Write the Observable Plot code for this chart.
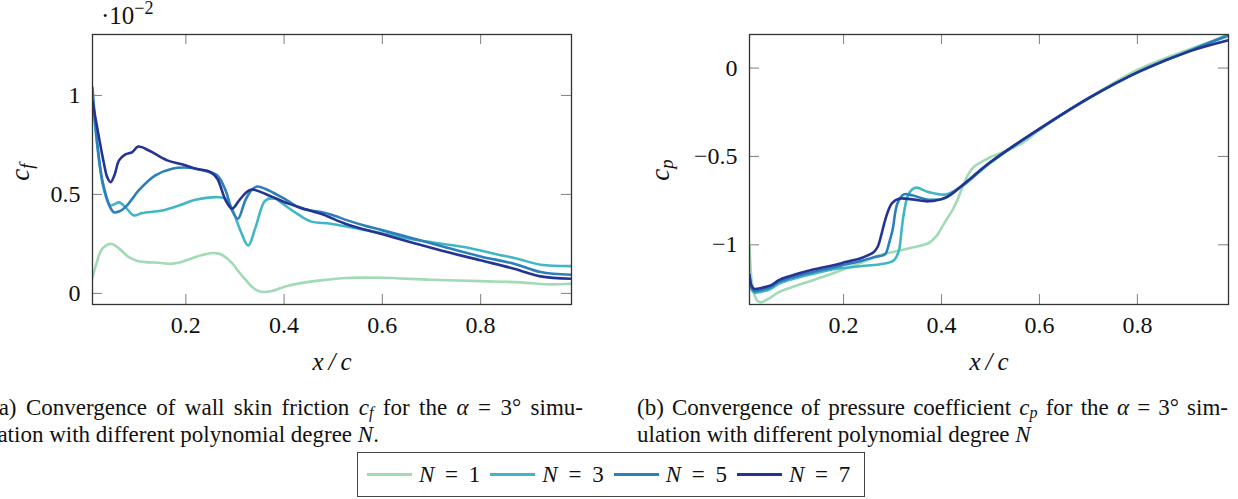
<!DOCTYPE html>
<html><head><meta charset="utf-8">
<script src="https://cdn.jsdelivr.net/npm/d3@7"></script>
<script src="https://cdn.jsdelivr.net/npm/@observablehq/plot@0.6"></script>
<style>
body{margin:0;background:#fff;width:1238px;height:499px;overflow:hidden;position:relative;font-family:'Liberation Serif',serif;color:#111}
.abs{position:absolute}
.cap{position:absolute;font-size:23px;line-height:25px;width:592px;white-space:nowrap}
.just{text-align:justify;text-align-last:justify;white-space:normal}
sub{font-size:0.7em;vertical-align:-0.2em;line-height:0}
sup{font-size:0.72em;vertical-align:0.55em;line-height:0}
.ylab{position:absolute;width:60px;height:30px;line-height:30px;text-align:center;font-size:27px;transform:rotate(-90deg)}
#legend{position:absolute;left:357px;top:452px;width:508px;height:45px;border:1px solid #444;box-sizing:border-box;display:flex;align-items:center;padding-left:9px;font-size:23px}
#legend .sw{display:inline-block;width:45px;height:2.6px;margin-right:7px}
#legend .lt{margin-right:10px;white-space:nowrap}
#legend .lt .eq{padding:0 5px}
</style>
</head><body>
<div id="left" class="abs" style="left:0;top:0"></div>
<div id="right" class="abs" style="left:620px;top:0"></div>
<div class="abs" style="left:101px;top:4px;font-size:25px;line-height:24px">·10<sup>−2</sup></div>
<div class="ylab" style="left:-10px;top:157px"><i>c</i><sub><i>f</i></sub></div>
<div class="ylab" style="left:630px;top:155px"><i>c</i><sub><i>p</i></sub></div>
<div class="cap just" style="left:-9px;top:395px">(a) Convergence of wall skin friction <i>c</i><sub><i>f</i></sub> for the <i>α</i> = 3° simu-</div>
<div class="cap" style="left:-9px;top:422px">lation with different polynomial degree <i>N</i>.</div>
<div class="cap just" style="left:637px;top:395px;width:591px">(b) Convergence of pressure coefficient <i>c</i><sub><i>p</i></sub> for the <i>α</i> = 3° sim-</div>
<div class="cap" style="left:637px;top:422px">ulation with different polynomial degree <i>N</i></div>
<div id="legend"></div>
<script>
// ---- data ----
const degrees = ["N = 1", "N = 3", "N = 5", "N = 7"];
const colors = ["#a1dab4", "#41b6c4", "#2c7fb8", "#253494"];
const xTicks = [0.2, 0.4, 0.6, 0.8];
const cfTicks = [0, 0.5, 1];
const cpTicks = [-1, -0.5, 0];

// skin friction c_f (units of 1e-2)
const cfN1x = [0.01, 0.02, 0.03, 0.049, 0.065, 0.084, 0.1, 0.118, 0.145, 0.172, 0.195, 0.213, 0.235, 0.254, 0.268, 0.281, 0.295, 0.308, 0.322, 0.335, 0.348, 0.359, 0.375, 0.389, 0.41, 0.434, 0.475, 0.529, 0.597, 0.698, 0.8, 0.882, 0.936, 0.985];
const cfN1y = [0.08, 0.167, 0.226, 0.25, 0.225, 0.183, 0.165, 0.158, 0.155, 0.15, 0.162, 0.178, 0.195, 0.204, 0.2, 0.183, 0.15, 0.108, 0.068, 0.032, 0.012, 0.007, 0.012, 0.024, 0.04, 0.052, 0.066, 0.078, 0.079, 0.069, 0.062, 0.056, 0.046, 0.049];
const cfN3x = [0.01, 0.02, 0.03, 0.04, 0.047, 0.054, 0.064, 0.077, 0.094, 0.111, 0.152, 0.186, 0.22, 0.267, 0.281, 0.294, 0.311, 0.327, 0.342, 0.362, 0.382, 0.393, 0.41, 0.427, 0.454, 0.495, 0.563, 0.631, 0.698, 0.766, 0.834, 0.875, 0.922, 0.985];
const cfN3y = [0.98, 0.74, 0.56, 0.47, 0.444, 0.45, 0.46, 0.436, 0.394, 0.406, 0.419, 0.444, 0.473, 0.486, 0.478, 0.428, 0.318, 0.242, 0.335, 0.47, 0.478, 0.461, 0.43, 0.402, 0.364, 0.352, 0.321, 0.288, 0.259, 0.234, 0.197, 0.175, 0.145, 0.138];
const cfN5x = [0.01, 0.02, 0.03, 0.037, 0.045, 0.054, 0.065, 0.077, 0.09, 0.104, 0.138, 0.172, 0.206, 0.24, 0.264, 0.281, 0.294, 0.306, 0.321, 0.333, 0.345, 0.369, 0.406, 0.434, 0.475, 0.495, 0.529, 0.563, 0.597, 0.665, 0.732, 0.8, 0.868, 0.922, 0.985];
const cfN5y = [1.04, 0.75, 0.57, 0.5, 0.44, 0.41, 0.415, 0.436, 0.475, 0.52, 0.596, 0.63, 0.635, 0.618, 0.596, 0.52, 0.419, 0.377, 0.47, 0.52, 0.54, 0.52, 0.47, 0.43, 0.411, 0.399, 0.369, 0.343, 0.321, 0.276, 0.231, 0.187, 0.15, 0.108, 0.094];
const cfN7x = [0.01, 0.023, 0.033, 0.04, 0.047, 0.055, 0.064, 0.077, 0.091, 0.103, 0.125, 0.162, 0.192, 0.22, 0.25, 0.264, 0.281, 0.294, 0.311, 0.332, 0.369, 0.406, 0.434, 0.475, 0.529, 0.597, 0.665, 0.732, 0.8, 0.868, 0.922, 0.985];
const cfN7y = [0.97, 0.79, 0.66, 0.587, 0.562, 0.6, 0.672, 0.702, 0.714, 0.742, 0.722, 0.672, 0.652, 0.63, 0.613, 0.579, 0.47, 0.428, 0.478, 0.524, 0.495, 0.456, 0.433, 0.402, 0.348, 0.301, 0.254, 0.209, 0.167, 0.125, 0.086, 0.074];

// pressure coefficient c_p
const cpN1x = [0.008, 0.015, 0.025, 0.034, 0.05, 0.068, 0.1, 0.136, 0.17, 0.204, 0.24, 0.272, 0.31, 0.34, 0.374, 0.39, 0.401, 0.412, 0.422, 0.432, 0.442, 0.455, 0.466, 0.5, 0.534, 0.568, 0.6, 0.7, 0.8, 0.9, 0.986];
const cpN1y = [-1.0, -1.25, -1.32, -1.324, -1.3, -1.268, -1.235, -1.202, -1.17, -1.135, -1.098, -1.06, -1.035, -1.016, -0.99, -0.95, -0.9, -0.85, -0.805, -0.75, -0.68, -0.6, -0.56, -0.504, -0.466, -0.419, -0.35, -0.17, -0.01, 0.1, 0.18];
const cpN3x = [0.008, 0.012, 0.017, 0.034, 0.051, 0.068, 0.088, 0.136, 0.177, 0.204, 0.238, 0.272, 0.303, 0.313, 0.318, 0.323, 0.333, 0.347, 0.374, 0.408, 0.442, 0.5, 0.602, 0.704, 0.806, 0.908, 0.986];
const cpN3y = [-1.19, -1.25, -1.27, -1.265, -1.25, -1.22, -1.2, -1.165, -1.14, -1.13, -1.12, -1.112, -1.088, -1.032, -0.93, -0.824, -0.711, -0.677, -0.702, -0.715, -0.668, -0.535, -0.342, -0.166, -0.016, 0.1, 0.19];
const cpN5x = [0.008, 0.012, 0.017, 0.034, 0.051, 0.068, 0.088, 0.136, 0.177, 0.204, 0.238, 0.262, 0.28, 0.286, 0.293, 0.3, 0.31, 0.323, 0.34, 0.374, 0.408, 0.442, 0.5, 0.602, 0.704, 0.806, 0.908, 0.986];
const cpN5y = [-1.18, -1.24, -1.26, -1.255, -1.24, -1.21, -1.19, -1.155, -1.13, -1.112, -1.09, -1.07, -1.06, -1.05, -0.99, -0.918, -0.767, -0.715, -0.72, -0.745, -0.735, -0.666, -0.533, -0.341, -0.165, -0.016, 0.1, 0.185];
const cpN7x = [0.008, 0.012, 0.017, 0.034, 0.051, 0.068, 0.088, 0.136, 0.177, 0.204, 0.238, 0.262, 0.27, 0.276, 0.283, 0.289, 0.299, 0.313, 0.34, 0.374, 0.408, 0.442, 0.5, 0.602, 0.704, 0.806, 0.908, 0.986];
const cpN7y = [-1.17, -1.23, -1.249, -1.243, -1.23, -1.2, -1.179, -1.141, -1.117, -1.098, -1.073, -1.041, -1.01, -0.956, -0.88, -0.824, -0.764, -0.739, -0.743, -0.754, -0.733, -0.664, -0.532, -0.34, -0.164, -0.017, 0.096, 0.157];

// ---- build ----
const rows = (xs, ys, k) => xs.map((x, i) => ({x, y: ys[i], k}));
const cfData = [
  ...rows(cfN1x, cfN1y, degrees[0]), ...rows(cfN3x, cfN3y, degrees[1]),
  ...rows(cfN5x, cfN5y, degrees[2]), ...rows(cfN7x, cfN7y, degrees[3])];
const cpData = [
  ...rows(cpN1x, cpN1y, degrees[0]), ...rows(cpN3x, cpN3y, degrees[1]),
  ...rows(cpN5x, cpN5y, degrees[2]), ...rows(cpN7x, cpN7y, degrees[3])];

const fmt = d => String(d).replace("-", "\u2212");
const H = 390, MT = 34, MB = 86;
const FH = H - MT - MB;
const TL = 10;
const FONT = "'Liberation Serif', serif";
const style = {fontFamily: FONT, fontSize: "24px", background: "transparent", overflow: "visible", color: "#111"};

function panel(data, yDomain, yTicks, width, ml, mr, xDomain, curve) {
  const FW = width - ml - mr;
  return Plot.plot({
    width, height: H, marginLeft: ml, marginRight: mr, marginTop: MT, marginBottom: MB,
    x: {domain: xDomain},
    y: {domain: yDomain},
    color: {domain: degrees, range: colors},
    style,
    marks: [
      Plot.tickX(xTicks, {x: d => d, insetTop: FH - TL, stroke: "#8a8a8a", strokeWidth: 1.1}),
      Plot.tickX(xTicks, {x: d => d, insetBottom: FH - TL, stroke: "#8a8a8a", strokeWidth: 1.1}),
      Plot.tickY(yTicks, {y: d => d, insetRight: FW - TL, stroke: "#8a8a8a", strokeWidth: 1.1}),
      Plot.tickY(yTicks, {y: d => d, insetLeft: FW - TL, stroke: "#8a8a8a", strokeWidth: 1.1}),
      Plot.line(data, {x: "x", y: "y", z: "k", stroke: "k", strokeWidth: 2.6, curve, clip: true}),
      Plot.frame({stroke: "#333", strokeWidth: 1.3}),
      Plot.axisX({ticks: xTicks, tickSize: 0, tickPadding: 11, label: null, tickFormat: fmt, fontFamily: FONT}),
      Plot.axisY({ticks: yTicks, tickSize: 0, tickPadding: 12, label: null, tickFormat: fmt, fontFamily: FONT}),
      Plot.text(["x\u2009/\u2009c"], {frameAnchor: "bottom", dy: 65, text: d => d, fontStyle: "italic", fontSize: 25, fontFamily: FONT})
    ]
  });
}

document.getElementById("left").append(panel(cfData, [-0.056, 1.308], cfTicks, 610, 92, 39, [0.01, 0.985], "catmull-rom"));
document.getElementById("right").append(panel(cpData, [-1.338, 0.19], cpTicks, 618, 129, 10, [0.008, 0.986], "catmull-rom"));

const lg = document.getElementById("legend");
degrees.forEach((d, i) => {
  const sw = document.createElement("span");
  sw.className = "sw"; sw.style.background = colors[i];
  const t = document.createElement("span");
  t.className = "lt";
  t.innerHTML = "<i>N</i> <span class=\"eq\">=</span> " + d.split("= ")[1];
  lg.append(sw, t);
});
</script>
</body></html>
